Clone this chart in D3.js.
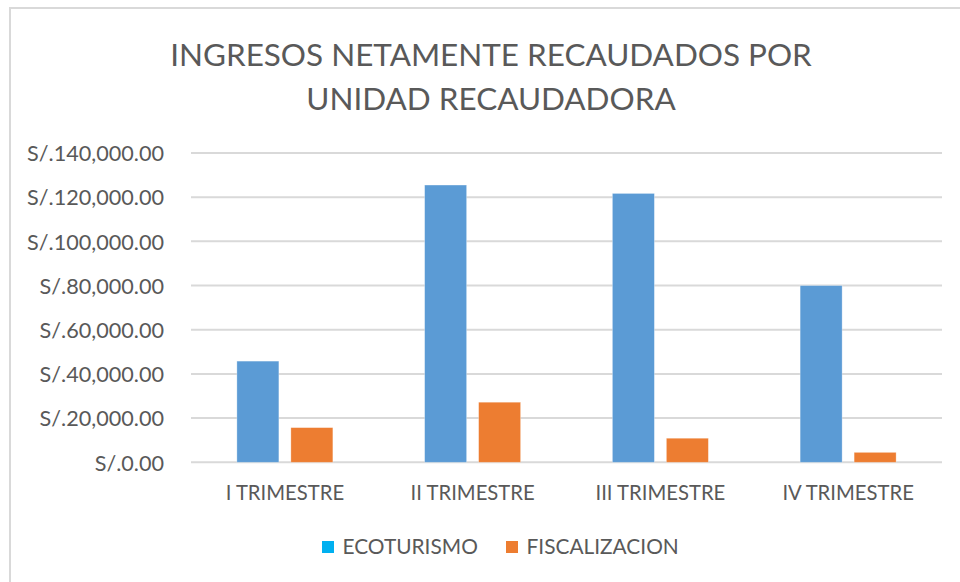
<!DOCTYPE html>
<html>
<head>
<meta charset="utf-8">
<script src="https://cdn.jsdelivr.net/npm/d3@7"></script>
<style>
  body { margin: 0; background: #fff; }
  text { font-family: Lato, "Open Sans", sans-serif; fill: #595959; }
</style>
</head>
<body>
<div id="chart"></div>
<script>
// Chart data
var quarters = ["I TRIMESTRE", "II TRIMESTRE", "III TRIMESTRE", "IV TRIMESTRE"];
var seriesNames = ["ECOTURISMO", "FISCALIZACION"];
var ecoturismo = [45800, 125500, 121700, 80000];
var fiscalizacion = [15700, 27200, 10900, 4500];
var yTicks = [0, 20000, 40000, 60000, 80000, 100000, 120000, 140000];
var titleLines = ["INGRESOS NETAMENTE RECAUDADOS POR", "UNIDAD RECAUDADORA"];

var svgWidth = 960;
var svgHeight = 582;

var barColors = ["#5B9BD5", "#ED7D31"];
var legendColors = ["#00B0F0", "#ED7D31"];

var plot = { left: 191, right: 942, top: 153, bottom: 462.3 };

var svg = d3.select("#chart").append("svg")
  .attr("width", svgWidth)
  .attr("height", svgHeight);

// chart frame (only top and left edges show in the window)
svg.append("rect")
  .attr("x", 10)
  .attr("y", 8)
  .attr("width", 1000)
  .attr("height", 1000)
  .attr("fill", "none")
  .attr("stroke", "#D9D9D9")
  .attr("stroke-width", 2);

// fit a text's font-size so it spans a given width
function fitSize(str, width) {
  var t = svg.append("text").style("font-size", "100px").text(str);
  var w = t.node().getComputedTextLength();
  t.remove();
  return 100 * width / w;
}

var titleSize = fitSize(titleLines[0], 642);
var labelSize = fitSize("S/.140,000.00", 137);
// Lato runs wider than the original font, so meet halfway on the word labels
var catSize = (labelSize + fitSize("I TRIMESTRE", 110.7)) / 2;
var legendSize = (labelSize + fitSize("ECOTURISMO", 130.6)) / 2;

// title
svg.append("g").selectAll("text")
  .data(titleLines)
  .enter()
  .append("text")
  .attr("x", 491)
  .attr("y", function(d, i) { return 66 + i * 43.5; })
  .attr("text-anchor", "middle")
  .style("font-size", titleSize + "px")
  .text(function(d) { return d; });

var yScale = d3.scaleLinear()
  .domain([0, 140000])
  .range([plot.bottom, plot.top]);

var x0 = d3.scaleBand()
  .domain(quarters)
  .range([plot.left, plot.right]);

var x1 = d3.scaleBand()
  .domain(seriesNames)
  .range([0, x0.bandwidth()])
  .paddingInner(12 / 54)
  .paddingOuter(0.85);

// gridlines
svg.append("g").selectAll("line")
  .data(yTicks)
  .enter()
  .append("line")
  .attr("x1", plot.left)
  .attr("x2", plot.right)
  .attr("y1", function(d) { return yScale(d); })
  .attr("y2", function(d) { return yScale(d); })
  .attr("stroke", "#D9D9D9")
  .attr("stroke-width", 2);

// y axis labels
var fmt = d3.format(",.2f");
var leftAxis = d3.axisLeft(yScale)
  .tickValues(yTicks)
  .tickSize(0)
  .tickPadding(0)
  .tickFormat(function(d) { return "S/." + fmt(d); });

var yAxisG = svg.append("g")
  .attr("transform", "translate(164,0)")
  .call(leftAxis);
yAxisG.select(".domain").remove();
yAxisG.selectAll("text")
  .attr("x", 0)
  .attr("dy", "0.36em")
  .style("font-size", labelSize + "px")
  .style("font-family", "Lato, 'Open Sans', sans-serif")
  .attr("fill", "#595959");

// bars
var rows = quarters.map(function(q, i) {
  return { quarter: q, values: [ecoturismo[i], fiscalizacion[i]] };
});

var groups = svg.append("g").selectAll("g")
  .data(rows)
  .enter()
  .append("g")
  .attr("transform", function(d) { return "translate(" + x0(d.quarter) + ",0)"; });

groups.selectAll("rect")
  .data(function(d) {
    return d.values.map(function(v, j) { return { name: seriesNames[j], value: v, idx: j }; });
  })
  .enter()
  .append("rect")
  .attr("x", function(d) { return x1(d.name); })
  .attr("width", x1.bandwidth())
  .attr("y", function(d) { return yScale(d.value); })
  .attr("height", function(d) { return plot.bottom - yScale(d.value); })
  .attr("fill", function(d) { return barColors[d.idx]; })
  .attr("stroke", "#fff")
  .attr("stroke-opacity", 0.4)
  .attr("stroke-width", 0.75);

// x axis labels
var bottomAxis = d3.axisBottom(x0).tickSize(0).tickPadding(0);
var xAxisG = svg.append("g")
  .attr("transform", "translate(0,500)")
  .call(bottomAxis);
xAxisG.select(".domain").remove();
xAxisG.selectAll("text")
  .attr("y", 0)
  .attr("dy", 0)
  .style("font-size", catSize + "px")
  .style("font-family", "Lato, 'Open Sans', sans-serif")
  .attr("fill", "#595959");

// legend
var legendX = [322, 506];
var legend = svg.append("g").selectAll("g")
  .data(seriesNames)
  .enter()
  .append("g")
  .attr("transform", function(d, i) { return "translate(" + legendX[i] + ",541)"; });

legend.append("rect")
  .attr("width", 12)
  .attr("height", 12)
  .attr("fill", function(d, i) { return legendColors[i]; });

legend.append("text")
  .attr("x", 20.5)
  .attr("y", 12.5)
  .style("font-size", legendSize + "px")
  .text(function(d) { return d; });
</script>
</body>
</html>
